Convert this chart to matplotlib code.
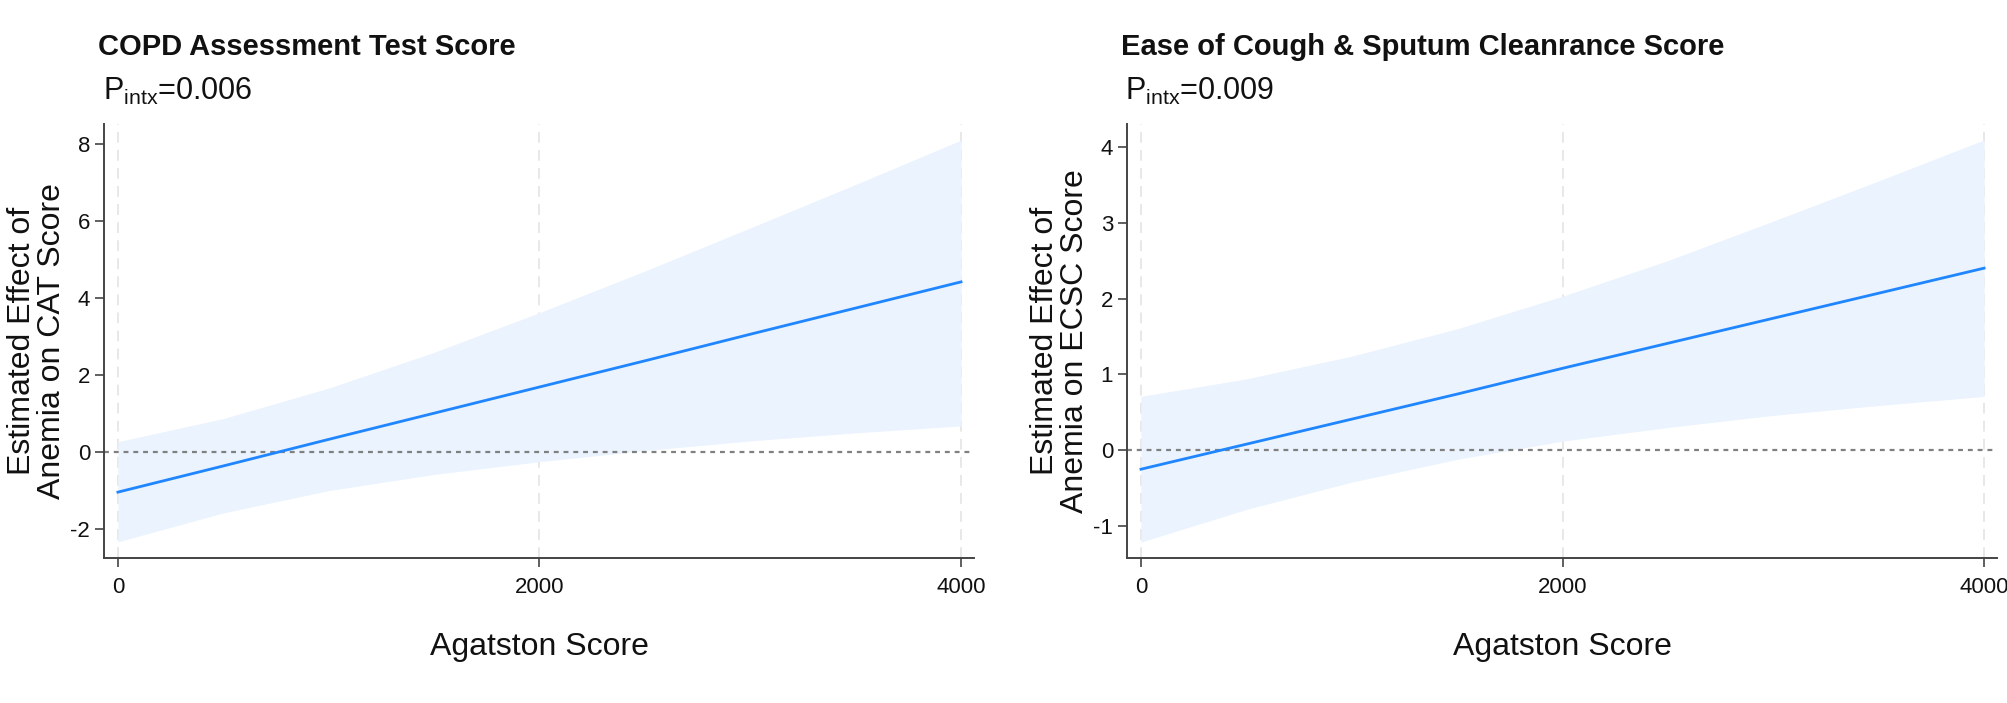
import matplotlib
matplotlib.use("Agg")
import matplotlib.pyplot as plt
import numpy as np

plt.rcParams['font.family'] = ['Liberation Sans', 'DejaVu Sans']
plt.rcParams['mathtext.fontset'] = 'custom'
plt.rcParams['mathtext.rm'] = 'Liberation Sans'
plt.rcParams['mathtext.it'] = 'Liberation Sans:italic'
plt.rcParams['axes.unicode_minus'] = False

# Agatston score grid
agatston = [0, 500, 1000, 1500, 2000, 2500, 3000, 3500, 4000]

# CAT score panel
cat_effect = [-1.04, -0.36, 0.33, 1.01, 1.69, 2.37, 3.06, 3.74, 4.42]
cat_upper = [0.27, 0.87, 1.66, 2.59, 3.62, 4.70, 5.82, 6.95, 8.10]
cat_lower = [-2.33, -1.58, -1.00, -0.58, -0.25, 0.04, 0.29, 0.50, 0.68]

# ECSC score panel
ecsc_effect = [-0.25, 0.08, 0.41, 0.74, 1.08, 1.41, 1.74, 2.07, 2.40]
ecsc_upper = [0.71, 0.94, 1.24, 1.60, 2.03, 2.50, 3.02, 3.55, 4.09]
ecsc_lower = [-1.21, -0.78, -0.42, -0.12, 0.12, 0.30, 0.46, 0.59, 0.71]

x_ticks = [0, 2000, 4000]
cat_yticks = [-2, 0, 2, 4, 6, 8]
ecsc_yticks = [-1, 0, 1, 2, 3, 4]

titles = ['COPD Assessment Test Score', 'Ease of Cough & Sputum Cleanrance Score']
pvals = ['0.006', '0.009']
ylabels = ['Estimated Effect of\nAnemia on CAT Score',
           'Estimated Effect of\nAnemia on ECSC Score']

LINE = '#1f86ff'
FILL = '#eaf3fe'
SPINE = '#444444'

fig = plt.figure(figsize=(20.08, 7.03), dpi=100)

ax1 = fig.add_axes([0.0518, 0.2063, 0.4333, 0.6173])
ax2 = fig.add_axes([0.5613, 0.2063, 0.4333, 0.6173])

panels = [
    (ax1, cat_effect, cat_upper, cat_lower, cat_yticks, (-2.75, 8.52)),
    (ax2, ecsc_effect, ecsc_upper, ecsc_lower, ecsc_yticks, (-1.42, 4.30)),
]

for ax, eff, up, lo, yt, ylim in panels:
    ax.fill_between(agatston, lo, up, color=FILL, linewidth=0, zorder=1)
    ax.plot(agatston, eff, color=LINE, linewidth=2, zorder=3)
    ax.axhline(0, color='#808080', linestyle=(0, (2.2, 2.2)), linewidth=1.6, zorder=2)

    ax.set_xlim(-66, 4062)
    ax.set_ylim(*ylim)
    ax.set_xticks(x_ticks)
    ax.set_yticks(yt)
    ax.xaxis.grid(True, color='#e6e6e6', linestyle=(0, (6, 4)), linewidth=1.3)
    ax.set_axisbelow(True)

    ax.spines['top'].set_visible(False)
    ax.spines['right'].set_visible(False)
    for s in ['left', 'bottom']:
        ax.spines[s].set_color(SPINE)
        ax.spines[s].set_linewidth(1.4)
    ax.tick_params(axis='both', length=6.5, width=1.2, color=SPINE,
                   labelsize=16, labelcolor='#111111')
    ax.tick_params(axis='x', pad=7)
    ax.tick_params(axis='y', pad=3.5)

# titles and interaction p-values
title_x = [0.0488, 0.5583]
p_x = [0.0513, 0.5603]
for i in range(2):
    fig.text(title_x[i], 0.9218, titles[i], fontsize=21, fontweight='bold',
             va='baseline', ha='left', color='#111111')
    fig.text(p_x[i], 0.8578, r'P$_{\mathrm{intx}}$=' + pvals[i], fontsize=22,
             va='baseline', ha='left', color='#111111')

# y labels
ylab_x = [0.0182, 0.5277]
for i in range(2):
    fig.text(ylab_x[i], 0.515, ylabels[i], rotation=90, fontsize=23,
             ha='center', va='center', multialignment='center',
             linespacing=1.0, color='#111111')

# x labels
xlab_x = [0.2684, 0.7779]
for i in range(2):
    fig.text(xlab_x[i], 0.0797, 'Agatston Score', fontsize=23,
             ha='center', va='center', color='#111111')

fig.savefig('out.png', dpi=100)
